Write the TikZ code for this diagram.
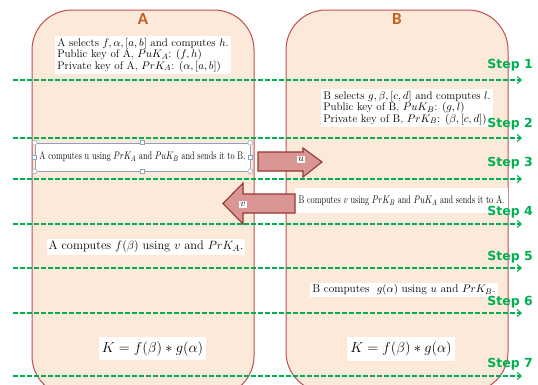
\documentclass[tikz,border=0pt]{standalone}
\usepackage{fontspec}
\newfontfamily\stepfont{DejaVu Sans}
\newfontfamily\labfont{Carlito}
\usetikzlibrary{arrows.meta}
\definecolor{boxfill}{RGB}{253,233,217}
\definecolor{boxline}{RGB}{192,80,77}
\definecolor{labcol}{RGB}{192,96,32}
\definecolor{stepgreen}{RGB}{0,176,80}
\definecolor{arrfill}{RGB}{217,150,148}
\definecolor{arrline}{RGB}{150,55,52}
\definecolor{handlecol}{RGB}{140,165,190}
\tikzset{
  party/.style={draw=boxline, fill=boxfill, line width=1pt, rounded corners=40pt},
  partylab/.style={font=\labfont\bfseries\fontsize{17}{17}\selectfont, text=labcol, inner sep=0pt},
  txt/.style={fill=white, inner sep=2pt, align=left, font=\fontsize{11}{11.5}\selectfont},
  ktxt/.style={fill=white, inner xsep=3pt, inner ysep=4.5pt, font=\fontsize{14}{16}\selectfont},
  stepline/.style={draw=stepgreen, line width=1.1pt, dash pattern=on 4.5pt off 2.5pt, -{Straight Barb[length=4pt,width=7pt]}},
  steplab/.style={font=\stepfont\bfseries\fontsize{12.5}{14}\selectfont, text=stepgreen, inner sep=0pt, anchor=east},
  bigarrow/.style={draw=arrline, fill=arrfill, line width=1.1pt, line join=miter},
  arrlab/.style={fill=white, inner sep=1.5pt, font=\fontsize{10}{11}\selectfont},
  handlecirc/.style={draw=handlecol, fill=white, line width=0.5pt, circle, inner sep=0pt, minimum size=5pt},
  handlesq/.style={draw=handlecol, fill=white, line width=0.5pt, rectangle, inner sep=0pt, minimum size=4pt},
}
\begin{document}
\begin{tikzpicture}[x=1pt,y=-1pt]
\path[use as bounding box] (0,0) rectangle (538,384);
\clip (0,0) rectangle (538,384);
\fill[white] (0,0) rectangle (538,384);

% parties
\path[party] (32,10) rectangle (254,396);
\path[party] (286,10) rectangle (508,392);
\node[partylab] (la) at (143,19) {A};
\node[partylab] (lb) at (397,19) {B};

% step lines
\foreach \i/\y in {1/80,2/138,3/179,4/224,5/268,6/313,7/376}{
  \coordinate (s\i a) at (13,\y);
  \coordinate (s\i b) at (522,\y);
  \draw[stepline] (s\i a) -- (s\i b);
}

% text boxes
\node[txt] (a1) at (143,55) {A selects $f,\alpha,[a,b]$ and computes $h$.\\Public key of A, $PuK_A$: $(f,h)$\\Private key of A, $PrK_A$: $(\alpha,[a,b])$};
\node[txt] (b1) at (407,108) {B selects $g,\beta,[c,d]$ and computes $l$.\\Public key of B, $PuK_B$: $(g,l)$\\Private key of B, $PrK_B$: $(\beta,[c,d])$};

% A step 3 box with selection handles
\node[draw=handlecol, line width=0.6pt, fill=white, minimum width=215pt, minimum height=28pt, inner sep=0pt] (a3) at (142.5,157) {\scalebox{0.76}[1]{\fontsize{11}{12}\selectfont A computes u using $PrK_A$ and $PuK_B$ and sends it to B.}};
\node[handlecirc] (h1) at (a3.north west) {};
\node[handlecirc] (h2) at (a3.north east) {};
\node[handlecirc] (h3) at (a3.south west) {};
\node[handlecirc] (h4) at (a3.south east) {};
\node[handlesq] (h5) at (a3.north) {};
\node[handlesq] (h6) at (a3.south) {};
\node[handlesq] (h7) at (a3.west) {};
\node[handlesq] (h8) at (a3.east) {};

\node[fill=white, minimum width=213pt, minimum height=25pt, inner sep=0pt] (b3) at (401.5,200.5) {\scalebox{0.76}[1]{\fontsize{11}{12}\selectfont B computes $v$ using $PrK_B$ and $PuK_A$ and sends it to A.}};

\node[txt, font=\fontsize{12.3}{14}\selectfont] (a5) at (146,246.5) {A computes $f(\beta)$ using $v$ and $PrK_A$.};
\node[txt, font=\fontsize{11.3}{13}\selectfont] (b5) at (404,290) {B computes\ \ $g(\alpha)$ using $u$ and $PrK_B$.};

\node[ktxt] (a7) at (152.5,348.5) {$K=f(\beta)*g(\alpha)$};
\node[ktxt] (b7) at (401,349) {$K=f(\beta)*g(\alpha)$};

% big arrows
\draw[bigarrow] (258,152) -- (303,152) -- (303,148) -- (322,162) -- (303,177) -- (303,171) -- (258,171) -- cycle;
\node[arrlab] (lu) at (301,159.5) {$u$};
\draw[bigarrow] (295,194) -- (243,194) -- (243,183) -- (223,203.5) -- (243,224) -- (243,213) -- (295,213) -- cycle;
\node[arrlab] (lv) at (243,204.5) {$v$};

% step labels
\node[steplab] (t1) at (533,65) {Step 1};
\node[steplab] (t2) at (533,124) {Step 2};
\node[steplab] (t3) at (533,163) {Step 3};
\node[steplab] (t4) at (533,212) {Step 4};
\node[steplab] (t5) at (533,257) {Step 5};
\node[steplab] (t6) at (533,302) {Step 6};
\node[steplab] (t7) at (533,364) {Step 7};
\end{tikzpicture}
\end{document}
